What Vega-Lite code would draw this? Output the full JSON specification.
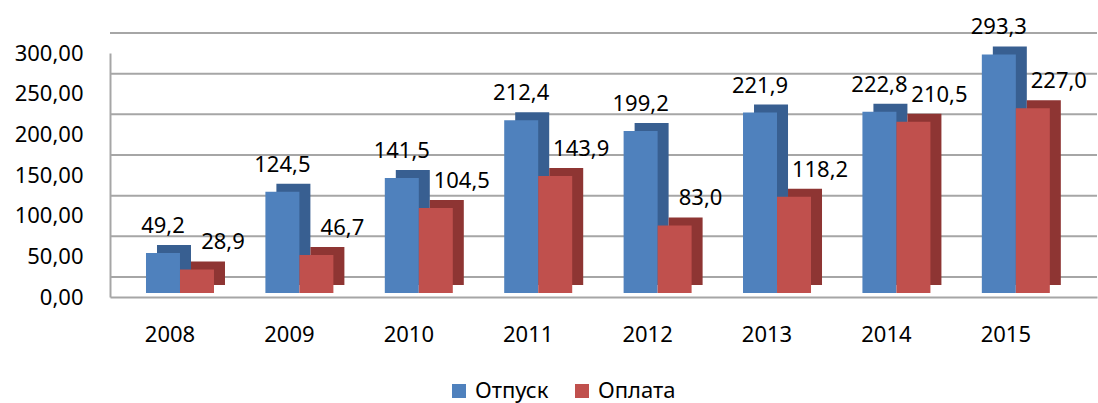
{
  "$schema": "https://vega.github.io/schema/vega-lite/v6.json",
  "autosize": {"type": "none"},
  "width": 987,
  "height": 244,
  "padding": {"left": 110, "top": 53, "right": 1, "bottom": 106},
  "background": "white",
  "config": {
    "locale": {"number": {"decimal": ",", "thousands": " ", "grouping": [3], "currency": ["", ""]}},
    "view": {"stroke": null},
    "font": "Noto Sans",
    "text": {"font": "Noto Sans"}
  },
  "datasets": {
    "bars": [
      {"year": "2008", "series": "Отпуск", "value": 49.2},
      {"year": "2008", "series": "Оплата", "value": 28.9},
      {"year": "2009", "series": "Отпуск", "value": 124.5},
      {"year": "2009", "series": "Оплата", "value": 46.7},
      {"year": "2010", "series": "Отпуск", "value": 141.5},
      {"year": "2010", "series": "Оплата", "value": 104.5},
      {"year": "2011", "series": "Отпуск", "value": 212.4},
      {"year": "2011", "series": "Оплата", "value": 143.9},
      {"year": "2012", "series": "Отпуск", "value": 199.2},
      {"year": "2012", "series": "Оплата", "value": 83.0},
      {"year": "2013", "series": "Отпуск", "value": 221.9},
      {"year": "2013", "series": "Оплата", "value": 118.2},
      {"year": "2014", "series": "Отпуск", "value": 222.8},
      {"year": "2014", "series": "Оплата", "value": 210.5},
      {"year": "2015", "series": "Отпуск", "value": 293.3},
      {"year": "2015", "series": "Оплата", "value": 227.0}
    ],
    "grid": [{"v": 0}, {"v": 50}, {"v": 100}, {"v": 150}, {"v": 200}, {"v": 250}, {"v": 300}]
  },
  "layer": [
    {
      "data": {"name": "bars"},
      "mark": {"type": "bar", "width": 34, "opacity": 0},
      "encoding": {
        "x": {"field": "year", "type": "nominal", "title": null,
          "scale": {"paddingInner": 0, "paddingOuter": 0.133, "align": 0.324},
          "axis": {"domain": true, "domainColor": "#a6a6a6", "domainWidth": 2, "ticks": false, "labelPadding": 27, "labelOffset": -10, "labelFontSize": 22, "labelColor": "#000000", "labelAngle": 0, "labelFont": "Noto Sans"}},
        "y": {"field": "value", "type": "quantitative", "title": null,
          "scale": {"domain": [0, 300], "nice": false},
          "axis": {"values": [0, 50, 100, 150, 200, 250, 300], "format": ".2f", "domain": true, "domainColor": "#a6a6a6", "domainWidth": 2, "ticks": false, "grid": false, "labelPadding": 27, "labelFontSize": 22, "labelColor": "#000000", "labelFont": "Noto Sans"}}
      }
    },
    {
      "data": {"name": "grid"},
      "mark": {"type": "rule", "color": "#a6a6a6", "strokeWidth": 2, "yOffset": -20},
      "encoding": {"y": {"field": "v", "type": "quantitative", "title": null}}
    },
    {
      "data": {"name": "bars"},
      "transform": [{"filter": "datum.series == 'Отпуск'"}],
      "mark": {"type": "bar", "width": 34, "color": "#385f91", "xOffset": -6, "x2Offset": -6, "yOffset": -12, "y2Offset": -12},
      "encoding": {
        "x": {"field": "year", "type": "nominal", "title": null},
        "y": {"field": "value", "type": "quantitative", "title": null}
      }
    },
    {
      "data": {"name": "bars"},
      "transform": [{"filter": "datum.series == 'Оплата'"}],
      "mark": {"type": "bar", "width": 34, "color": "#8e3533", "xOffset": 28, "x2Offset": 28, "yOffset": -12, "y2Offset": -12},
      "encoding": {
        "x": {"field": "year", "type": "nominal", "title": null},
        "y": {"field": "value", "type": "quantitative", "title": null}
      }
    },
    {
      "data": {"name": "bars"},
      "transform": [{"filter": "datum.series == 'Отпуск'"}],
      "mark": {"type": "bar", "width": 34, "xOffset": -17, "x2Offset": -17, "yOffset": -4, "y2Offset": -4},
      "encoding": {
        "x": {"field": "year", "type": "nominal", "title": null},
        "y": {"field": "value", "type": "quantitative", "title": null},
        "color": {"field": "series", "type": "nominal", "title": null,
          "scale": {"domain": ["Отпуск", "Оплата"], "range": ["#4f81bd", "#c0504d"]},
          "legend": {"orient": "none", "direction": "horizontal", "legendX": 338, "legendY": 327, "symbolType": "square", "symbolSize": 196, "symbolStrokeWidth": 0, "labelFontSize": 22, "labelFont": "Noto Sans", "labelColor": "#000000", "columnPadding": 22, "labelOffset": 5}}
      }
    },
    {
      "data": {"name": "bars"},
      "transform": [{"filter": "datum.series == 'Оплата'"}],
      "mark": {"type": "bar", "width": 34, "xOffset": 17, "x2Offset": 17, "yOffset": -4, "y2Offset": -4},
      "encoding": {
        "x": {"field": "year", "type": "nominal", "title": null},
        "y": {"field": "value", "type": "quantitative", "title": null},
        "color": {"field": "series", "type": "nominal", "title": null}
      }
    },
    {
      "data": {"name": "bars"},
      "transform": [{"filter": "datum.series == 'Отпуск'"}],
      "mark": {"type": "text", "fontSize": 22, "dx": -17, "dy": -24, "baseline": "alphabetic", "color": "#000000"},
      "encoding": {
        "x": {"field": "year", "type": "nominal", "title": null},
        "y": {"field": "value", "type": "quantitative", "title": null},
        "text": {"field": "value", "type": "quantitative", "format": ".1f"}
      }
    },
    {
      "data": {"name": "bars"},
      "transform": [{"filter": "datum.series == 'Оплата'"}],
      "mark": {"type": "text", "fontSize": 22, "dx": 43, "dy": -24, "baseline": "alphabetic", "color": "#000000"},
      "encoding": {
        "x": {"field": "year", "type": "nominal", "title": null},
        "y": {"field": "value", "type": "quantitative", "title": null},
        "text": {"field": "value", "type": "quantitative", "format": ".1f"}
      }
    }
  ]
}
